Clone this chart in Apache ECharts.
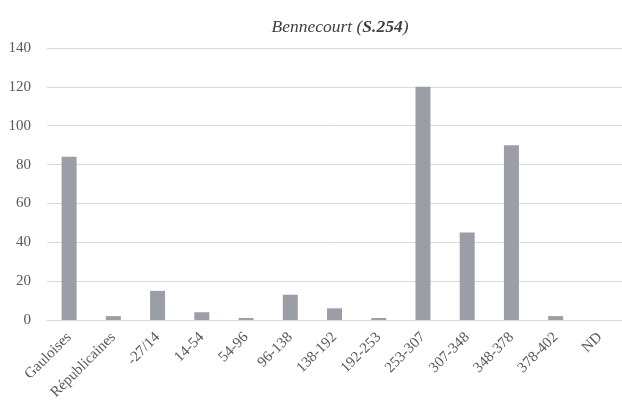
<!DOCTYPE html>
<html>
<head>
<meta charset="utf-8">
<script src="https://cdn.jsdelivr.net/npm/echarts@6/dist/echarts.min.js"></script>
<style>
  html, body { margin: 0; padding: 0; background: #fff; }
  #chart { width: 622px; height: 403px; }
</style>
</head>
<body>
<div id="chart"></div>
<script>
// Periods (coin groups) and counts for Bennecourt
const categories = ['Gauloises', 'Républicaines', '-27/14', '14-54', '54-96', '96-138',
  '138-192', '192-253', '253-307', '307-348', '348-378', '378-402', 'ND'];
const counts = [84, 2, 15, 4, 1, 13, 6, 1, 120, 45, 90, 2, 0];
const yTicks = { min: 0, max: 140, step: 20 };

const serif = '"Liberation Serif", "DejaVu Serif", serif';
const textGrey = '#595959';

const chart = echarts.init(document.getElementById('chart'), null, { renderer: 'canvas' });
chart.setOption({
  animation: false,
  title: {
    text: '{i|Bennecourt (}{b|S.254}{i|)}',
    left: 335,
    textAlign: 'center',
    top: 13,
    textStyle: {
      fontWeight: 'normal',
      rich: {
        i: { fontFamily: serif, fontStyle: 'italic', fontWeight: 'normal', fontSize: 17.5, color: '#404040' },
        b: { fontFamily: serif, fontStyle: 'italic', fontWeight: 'bold', fontSize: 17.5, color: '#404040' }
      }
    }
  },
  grid: { left: 47, right: -5, top: 48, bottom: 83, containLabel: false },
  xAxis: {
    type: 'category',
    data: categories,
    axisLine: { lineStyle: { color: '#d9d9d9', width: 1 } },
    axisTick: { show: false },
    axisLabel: {
      rotate: 45,
      interval: 0,
      margin: 15,
      color: textGrey,
      fontFamily: serif,
      fontSize: 15
    }
  },
  yAxis: {
    type: 'value',
    min: yTicks.min,
    max: yTicks.max,
    interval: yTicks.step,
    axisLine: { show: false },
    axisTick: { show: false },
    splitLine: { lineStyle: { color: '#d9d9d9', width: 1 } },
    axisLabel: {
      margin: 16,
      color: textGrey,
      fontFamily: serif,
      fontSize: 15
    }
  },
  series: [{
    type: 'bar',
    data: counts,
    barWidth: 15,
    itemStyle: { color: '#9b9ea4' }
  }]
});
</script>
</body>
</html>
